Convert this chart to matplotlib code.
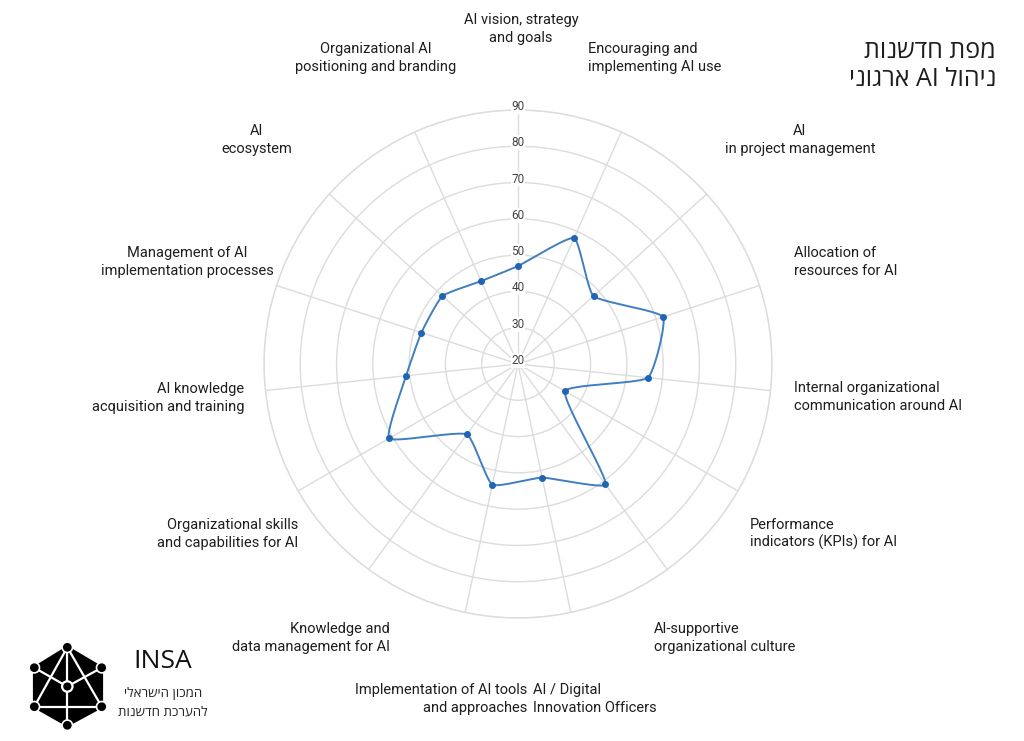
import numpy as np
import matplotlib
matplotlib.use('Agg')
import matplotlib.pyplot as plt
from matplotlib.patches import Polygon, Circle

# ---- data (clockwise from top) ----
categories = [
    'AI vision, strategy\nand goals',
    'Encouraging and\nimplementing AI use',
    'AI\nin project management',
    'Allocation of\nresources for AI',
    'Internal organizational\ncommunication around AI',
    'Performance\nindicators (KPIs) for AI',
    'AI-supportive\norganizational culture',
    'AI / Digital\nInnovation Officers',
    'Implementation of AI tools\nand approaches',
    'Knowledge and\ndata management for AI',
    'Organizational skills\nand capabilities for AI',
    'AI knowledge\nacquisition and training',
    'Management of AI\nimplementation processes',
    'AI\necosystem',
    'Organizational AI\npositioning and branding',
]
scores = [47, 58, 48, 62, 56, 35, 61, 52, 54, 44, 61, 51, 48, 48, 45]
r_ticks = [20, 30, 40, 50, 60, 70, 80, 90]

title_lines = ['מפת חדשנות', 'ניהול AI ארגוני']
logo_name = 'INSA'
logo_lines = ['המכון הישראלי', 'להערכת חדשנות']

# label anchors in pixels (x, y of block centre, alignment)
label_layout = [
    (521, 29, 'center'), (588, 58, 'left'), (800, 140, 'center'),
    (794, 262, 'left'), (794, 397, 'left'), (750, 534, 'left'),
    (654, 638, 'left'), (533, 699, 'left'), (527, 699, 'right'),
    (390, 638, 'right'), (298, 534, 'right'), (244, 398, 'right'),
    (187, 262, 'center'), (257, 140, 'center'), (376, 58, 'center'),
]

W, H = 1024, 741
GRID = '#dcdcdc'
LINE = '#3f7fc0'
DOT = '#1f65b3'


def vis(s):
    # matplotlib has no bidi; put hebrew words in visual order
    words = s.split(' ')
    out = []
    for w in reversed(words):
        if any('\u0590' <= c <= '\u05ff' for c in w):
            out.append(w[::-1])
        else:
            out.append(w)
    return ' '.join(out)


def smooth_radar(theta, vals, base, tension=0.15, n=25):
    r = np.asarray(vals, float) - base
    pts = np.column_stack([r * np.sin(theta), r * np.cos(theta)])
    N = len(pts)
    cprev = np.zeros_like(pts)
    cnext = np.zeros_like(pts)
    for i in range(N):
        p0, p1, p2 = pts[i - 1], pts[i], pts[(i + 1) % N]
        d01 = np.hypot(*(p1 - p0))
        d12 = np.hypot(*(p2 - p1))
        s01 = d01 / (d01 + d12)
        s12 = d12 / (d01 + d12)
        cprev[i] = p1 - tension * s01 * (p2 - p0)
        cnext[i] = p1 + tension * s12 * (p2 - p0)
    t = np.linspace(0, 1, n)[:, None]
    segs = []
    for i in range(N):
        j = (i + 1) % N
        b = ((1 - t) ** 3 * pts[i] + 3 * (1 - t) ** 2 * t * cnext[i]
             + 3 * (1 - t) * t ** 2 * cprev[j] + t ** 3 * pts[j])
        segs.append(b)
    xy = np.vstack(segs)
    th = np.unwrap(np.arctan2(xy[:, 0], xy[:, 1]))
    rr = np.hypot(xy[:, 0], xy[:, 1]) + base
    return th, rr


fig = plt.figure(figsize=(W / 100, H / 100), dpi=100)
fig.patch.set_facecolor('white')

cx, cy, R = 518, 364, 254
ax = fig.add_axes([(cx - R) / W, (H - cy - R) / H, 2 * R / W, 2 * R / H],
                  projection='polar')
ax.set_theta_zero_location('N')
ax.set_theta_direction(-1)
ax.set_ylim(r_ticks[0], r_ticks[-1])

angles = np.arange(len(scores)) * 2 * np.pi / len(scores)
ax.set_xticks(angles)
ax.set_xticklabels([])
ax.set_yticks(r_ticks[1:])
ax.set_yticklabels([])
ax.tick_params(length=0)
ax.grid(True, color=GRID, lw=1.0)
ax.spines['polar'].set_color(GRID)
ax.spines['polar'].set_linewidth(1.0)

for v in r_ticks:
    ax.text(0, v, str(v), ha='center', va='baseline', fontsize=8.5,
            family='Roboto', color='#444444', zorder=3,
            bbox=dict(fc='white', ec='none', pad=0.6))

th, rr = smooth_radar(angles, scores, r_ticks[0])
ax.plot(th, rr, color=LINE, lw=1.4, zorder=4)
ax.plot(angles, scores, 'o', color=DOT, ms=4, zorder=5)

for name, (x, y, ha) in zip(categories, label_layout):
    fig.text(x / W, 1 - y / H, name, ha=ha, va='center', multialignment=ha,
             fontsize=10.5, family='Roboto', color='#1e1e1e',
             linespacing=1.3)

# hebrew title, top right
fams = ['Open Sans', 'DejaVu Sans']
fig.text(996 / W, 1 - 52 / H, vis(title_lines[0]), ha='right', va='center',
         fontsize=18, family=fams, color='#1e1e1e')
fig.text(996 / W, 1 - 80 / H, vis(title_lines[1]), ha='right', va='center',
         fontsize=18, family=fams, color='#1e1e1e')

# logo
lax = fig.add_axes([0, 0, 1, 1], zorder=6)
lax.set_xlim(0, W)
lax.set_ylim(H, 0)
lax.axis('off')
lax.patch.set_alpha(0)
lc = np.array([67.3, 686.5])
top, ul, ur = (67.3, 647.3), (34.3, 667.7), (101.7, 667.7)
ll, lr, bot = (34.3, 706.7), (101.7, 706.7), (67.3, 725.3)
lax.add_patch(Polygon([top, ur, lr, bot, ll, ul], closed=True, fc='black',
                      ec='black', lw=2, joinstyle='round'))
for a, b in [(top, bot), (top, ll), (top, lr), (ll, lr), (tuple(lc), ul),
             (tuple(lc), ur)]:
    lax.plot([a[0], b[0]], [a[1], b[1]], color='white', lw=1.6,
             solid_capstyle='round')
for p in [top, ul, ur, ll, lr, bot]:
    lax.add_patch(Circle(p, 5.2, fc='black', ec='white', lw=1.2, zorder=3))
lax.add_patch(Circle(tuple(lc), 5.2, fc='black', ec='white', lw=1.6, zorder=3))

fig.text(163 / W, 1 - 662 / H, logo_name, ha='center', va='center',
         fontsize=19, family='Open Sans', color='#111111')
fig.text(163 / W, 1 - 693 / H, vis(logo_lines[0]), ha='center', va='center',
         fontsize=9.5, family=fams, color='#222222')
fig.text(163 / W, 1 - 712 / H, vis(logo_lines[1]), ha='center', va='center',
         fontsize=9.5, family=fams, color='#222222')

fig.savefig('out.png', dpi=100, facecolor='white')
